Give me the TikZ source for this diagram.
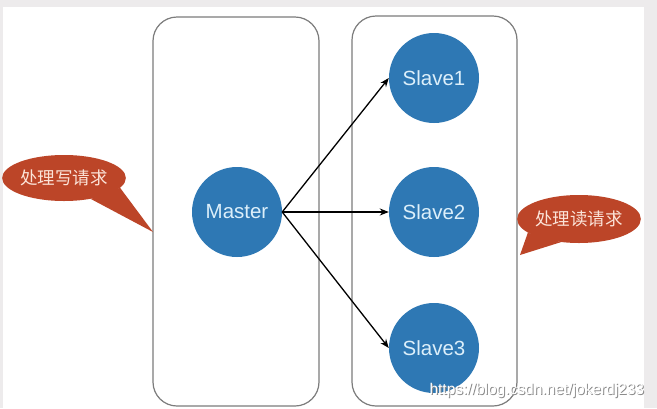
\documentclass[tikz,border=0pt]{standalone}
\usepackage{fontspec}
\setmainfont{Liberation Sans}
\newfontfamily\cjk{Noto Sans CJK SC}
\usetikzlibrary{shapes.geometric,arrows.meta}
\definecolor{bggray}{HTML}{EDEBEC}
\definecolor{boxgray}{HTML}{7C7C7C}
\definecolor{nodeblue}{HTML}{2E78B4}
\definecolor{nodetext}{HTML}{DCEFFA}
\definecolor{bubblered}{HTML}{BC4528}
\definecolor{bubbletext}{HTML}{FBE3D8}
\begin{document}
\begin{tikzpicture}[x=1pt,y=-1pt,
  box/.style={draw=boxgray, line width=1.2pt, rounded corners=24pt},
  srv/.style={circle, fill=nodeblue, minimum size=90pt, inner sep=0pt, text=nodetext, font=\fontsize{20.5}{20.5}\selectfont},
  bubble/.style={ellipse, fill=bubblered, inner sep=0pt, text=bubbletext, font=\cjk\fontsize{17.5}{17.5}\selectfont},
  link/.style={-{Stealth[length=9pt,width=7pt]}, line width=1.3pt, black}]
\useasboundingbox (0,0) rectangle (657,408);
\fill[bggray] (0,0) rectangle (657,408);
\fill[white] (3,7) rectangle (644,408);

% containers
\draw[box] (153,17) rectangle (319,406);
\draw[box] (352,16) rectangle (517,406);

% servers
\node[srv] (M) at (237,212) {Master};
\node[srv] (S1) at (434,78) {Slave1};
\node[srv] (S2) at (434,212) {Slave2};
\node[srv] (S3) at (434,348) {Slave3};

\draw[link] (M.east) -- (S1.west);
\draw[link] (M.east) -- (S2.west);
\draw[link] (M.east) -- (S3.west);

% callouts
\node[bubble, minimum width=115pt, minimum height=46pt] (WL) at (64,178) {处理写请求};
\coordinate (WT) at (153,232);
\fill[bubblered] (WL.-38) -- (WT) -- (WL.-10) -- cycle;

\node[bubble, minimum width=122pt, minimum height=48pt] (RD) at (579,219) {处理读请求};
\coordinate (RT) at (520,255);
\fill[bubblered] (RD.195) -- (RT) -- (RD.232) -- cycle;

% watermark
\node[anchor=base west, text=black!45, font=\fontsize{15.5}{15.5}\selectfont] (wms) at (427,395) {https://blog.csdn.net/jokerdj233};
\node[anchor=base west, text=white, font=\fontsize{15.5}{15.5}\selectfont] (wm) at (426,394) {https://blog.csdn.net/jokerdj233};
\end{tikzpicture}
\end{document}
